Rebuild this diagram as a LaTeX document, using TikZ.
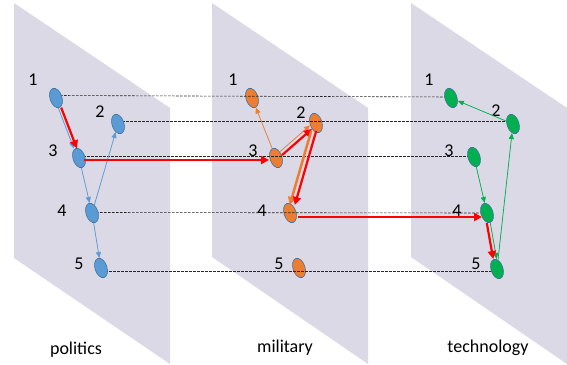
\documentclass[tikz,border=0pt]{standalone}
\usepackage{fontspec}
\setmainfont{Carlito}
\usetikzlibrary{shapes.geometric,arrows.meta}
\pgfdeclarelayer{planes}
\pgfdeclarelayer{under}
\pgfdeclarelayer{dash}
\pgfsetlayers{planes,under,dash,main}
\definecolor{planec}{RGB}{218,217,229}
\definecolor{nblue}{RGB}{91,155,213}
\definecolor{norange}{RGB}{237,125,49}
\definecolor{ngreen}{RGB}{0,176,80}
\definecolor{nborder}{RGB}{65,113,156}
\tikzset{
  x=1pt, y=-1pt,
  plane/.style={fill=planec, draw=none},
  dot/.style={ellipse, draw=nborder, line width=0.6pt, minimum width=12pt, minimum height=20pt, inner sep=0pt, rotate=18},
  bdot/.style={dot, fill=nblue},
  odot/.style={dot, fill=norange},
  gdot/.style={dot, fill=ngreen},
  lbl/.style={font=\fontsize{18}{20}\selectfont, inner sep=0pt},
  title/.style={font=\fontsize{18}{20}\selectfont, inner sep=0pt},
  dashline/.style={draw=black!85, line width=0.6pt, dash pattern=on 2.5pt off 1.5pt},
  thinarr/.style={line width=0.7pt, -{Triangle[length=6pt,width=5pt]}},
  bluearr/.style={thinarr, draw=nblue, fill=nblue},
  orangearr/.style={thinarr, draw=norange, fill=norange},
  greenarr/.style={thinarr, draw=ngreen, fill=ngreen},
  redarr/.style={draw=red, line width=2.2pt, -{Triangle[length=8pt,width=8pt]}},
  orangethick/.style={draw=norange, line width=2.5pt, -{Triangle[length=8pt,width=8pt]}},
}
\begin{document}
\begin{tikzpicture}
\useasboundingbox (0,0) rectangle (567,364);
\begin{pgfonlayer}{planes}
\fill[plane] (14,3) -- (170,108) -- (170,364) -- (14,258) -- cycle;
\fill[plane] (212,3) -- (368,108) -- (368,364) -- (212,257) -- cycle;
\fill[plane] (411,3) -- (567,108) -- (567,364) -- (411,257) -- cycle;
\end{pgfonlayer}

% plane 1 nodes
\node[bdot] (p1a) at (56,98) {};
\node[bdot] (p1b) at (118,124) {};
\node[bdot] (p1c) at (79,158) {};
\node[bdot] (p1d) at (92,213) {};
\node[bdot] (p1e) at (101,268) {};
% plane 2 nodes
\begin{pgfonlayer}{under}
\node[odot] (p2a) at (252,98) {};
\node[odot] (p2b) at (316,123) {};
\node[odot] (p2c) at (276,158) {};
\node[odot] (p2d) at (290,213) {};
\node[odot] (p2e) at (299,268) {};
\end{pgfonlayer}
% plane 3 nodes
\node[gdot] (p3a) at (451,98) {};
\node[gdot] (p3b) at (513,124) {};
\node[gdot] (p3c) at (474,157) {};
\node[gdot] (p3d) at (487,213) {};
\node[gdot] (p3e) at (497,269) {};

% number labels
\node[lbl] (l1a) at (33,80) {1};
\node[lbl] (l1b) at (100,112) {2};
\node[lbl] (l1c) at (53,151) {3};
\node[lbl] (l1d) at (62,211) {4};
\node[lbl] (l1e) at (79,264) {5};
\node[lbl] (l2a) at (233,80) {1};
\node[lbl] (l2b) at (301,113) {2};
\node[lbl] (l2c) at (253,151) {3};
\node[lbl] (l2d) at (262,211) {4};
\node[lbl] (l2e) at (279,264) {5};
\node[lbl] (l3a) at (429,80) {1};
\node[lbl] (l3b) at (496,111) {2};
\node[lbl] (l3c) at (449,151) {3};
\node[lbl] (l3d) at (457,211) {4};
\node[lbl] (l3e) at (476,264) {5};

% titles
\node[title] (t1) at (76,350) {politics};
\node[title] (t2) at (285,348) {military};
\node[title] (t3) at (488,348) {technology};

% dashed guide lines
\begin{pgfonlayer}{dash}
\draw[dashline] ([yshift=2.5pt]p1a.center) -- ([yshift=1pt]p3a.center);
\draw[dashline] ([yshift=2.5pt]p1b.center) -- ([yshift=2.5pt]p3b.center);
\draw[dashline] ([yshift=1.5pt]p1c.center) -- ([yshift=0.5pt]p3c.center);
\draw[dashline] ([yshift=0.5pt]p1d.center) -- (p3d.center);
\draw[dashline] ([yshift=-3pt]p1e.center) -- ([yshift=-2pt]p3e.center);
\end{pgfonlayer}

% plane 1 arrows
\draw[bluearr, transform canvas={xshift=-1.5pt}] (p1a) -- (p1c);
\draw[redarr, transform canvas={xshift=1.5pt}] (p1a) -- (p1c);
\draw[bluearr] (p1c) -- (p1d);
\draw[bluearr] (p1d) -- (p1b);
\draw[bluearr] (p1d) -- (p1e);

% plane 2 arrows
\draw[orangearr] (p2c) -- (p2a);
\draw[orangearr, transform canvas={xshift=-1pt,yshift=2pt}] (p2c) -- (p2b);
\draw[redarr, transform canvas={xshift=1pt,yshift=-1.5pt}] (p2c) -- (p2b);
\draw[orangethick, transform canvas={xshift=-2.5pt}] (p2b) -- (p2d);
\draw[redarr, transform canvas={xshift=2.5pt}] (p2b) -- (p2d);

% plane 3 arrows
\draw[greenarr] (p3b) -- (p3a);
\draw[greenarr] (p3c) -- (p3d);
\draw[greenarr, transform canvas={xshift=1.5pt}] (p3d) -- (p3e);
\draw[redarr, transform canvas={xshift=-2pt}] (p3d) -- (p3e);
\draw[greenarr] (p3e) -- (p3b);

% cross-plane red arrows
\draw[redarr, shorten <=5pt, shorten >=7pt] ([yshift=-2pt]p1c.center) -- ([yshift=-2pt]p1c.center -| p2c.center);
\draw[redarr, shorten <=8pt, shorten >=5pt] ([yshift=-4pt]p2d.center) -- ([yshift=-4pt]p2d.center -| p3d.center);
\end{tikzpicture}
\end{document}
